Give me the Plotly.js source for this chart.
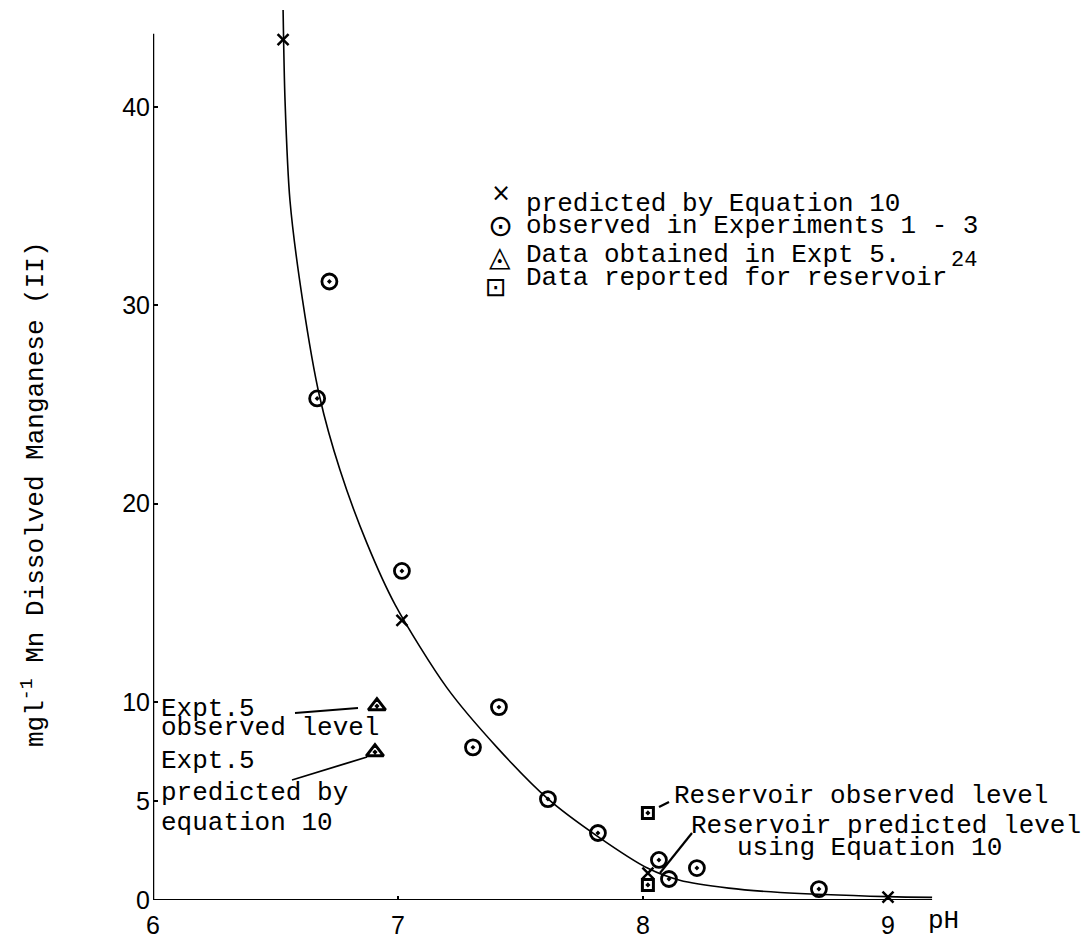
<!DOCTYPE html>
<html>
<head>
<meta charset="utf-8">
<script src="https://cdn.plot.ly/plotly-3.0.1.min.js"></script>
<style>html,body{margin:0;padding:0;background:#fff;}#chart{width:1087px;height:939px;}</style>
</head>
<body>
<div id="chart"></div>
<script>
// ---- data ----
const curvePH  = [6.531, 6.539, 6.559, 6.61, 6.68, 6.763, 6.873, 6.988, 7.2, 7.404, 7.612, 7.816, 8.02, 8.15, 8.35, 8.56, 9.0, 9.18];
const curveMn  = [44.9, 40.3, 35.3, 30.3, 25.4, 21.7, 18.0, 14.9, 10.7, 7.7, 5.1, 3.2, 1.6, 1.0, 0.6, 0.38, 0.17, 0.13];

const predictedPH = [6.531, 7.016, 8.02, 9.0];
const predictedMn = [43.4, 14.1, 1.36, 0.15];

const observedPH = [6.67, 6.72, 7.016, 7.306, 7.412, 7.612, 7.816, 8.065, 8.106, 8.22, 8.718];
const observedMn = [25.3, 31.2, 16.6, 7.7, 9.73, 5.09, 3.38, 2.02, 1.06, 1.61, 0.55];

const expt5PH = [6.914, 6.906];
const expt5Mn = [9.78, 7.46];

const reservoirPH = [8.02, 8.02];
const reservoirMn = [4.39, 0.76];

const xTicks = [6, 7, 8, 9];
const yTicks = [0, 5, 10, 20, 30, 40];

// ---- layout helpers (pixel -> paper) ----
const L = 153, R = 150, T = 0, B = 39, W = 1087, H = 939;
const PW = W - L - R, PH = H - T - B;
const px = p => (p - L) / PW;
const py = p => (H - B - p) / PH;

const MONO = 'Liberation Mono, Courier New, monospace';
const SANS = 'Liberation Sans, Arial, sans-serif';
const SYM = 'DejaVu Sans, sans-serif';

function txt(text, x, y, opts) {
  return Object.assign({
    text: text, xref: 'paper', yref: 'paper', x: px(x), y: py(y),
    xanchor: 'left', yanchor: 'middle', showarrow: false,
    font: {family: MONO, size: 26, color: '#000'}
  }, opts || {});
}

const traces = [
  {x: curvePH, y: curveMn, mode: 'lines', type: 'scatter', line: {color: '#000', width: 1.6, shape: 'spline', smoothing: 0.8}, hoverinfo: 'skip', cliponaxis: false},
  {x: predictedPH, y: predictedMn, mode: 'markers', type: 'scatter', name: 'predicted by Equation 10',
   marker: {symbol: 'x-thin', size: 11, line: {color: '#000', width: 2.5}}, cliponaxis: false},
  {x: observedPH, y: observedMn, mode: 'markers', type: 'scatter', name: 'observed in Experiments 1 - 3',
   marker: {symbol: 'circle-open-dot', size: 15, color: '#000', line: {color: '#000', width: 2.8}}, cliponaxis: false},
  {x: expt5PH, y: expt5Mn, mode: 'markers', type: 'scatter', name: 'Data obtained in Expt 5.',
   marker: {symbol: 'triangle-up-open-dot', size: 15, color: '#000', line: {color: '#000', width: 3}}, cliponaxis: false},
  {x: reservoirPH, y: reservoirMn, mode: 'markers', type: 'scatter', name: 'Data reported for reservoir',
   marker: {symbol: 'square-open-dot', size: 11, color: '#000', line: {color: '#000', width: 3}}, cliponaxis: false}
];

const annotations = [
  // legend
  txt('×', 501, 193, {xanchor: 'center', font: {family: SYM, size: 24, color: '#000'}}),
  txt('predicted by Equation 10', 524, 204),
  txt('⊙', 500, 226, {xanchor: 'center', font: {family: SYM, size: 30, color: '#000'}}),
  txt('observed in Experiments 1 - 3', 524, 226),
  txt('◬', 500, 256, {xanchor: 'center', font: {family: SYM, size: 28, color: '#000'}}),
  txt('Data obtained in Expt 5.', 524, 255),
  txt('⊡', 496, 287, {xanchor: 'center', font: {family: SYM, size: 26, color: '#000'}}),
  txt('Data reported for reservoir', 524, 278),
  txt('24', 949, 260, {font: {family: MONO, size: 22, color: '#000'}}),
  // expt 5 labels
  txt('Expt.5', 159, 709),
  txt('observed level', 159, 728),
  txt('Expt.5', 159, 761),
  txt('predicted by', 159, 793),
  txt('equation 10', 159, 823),
  // reservoir labels
  txt('Reservoir observed level', 672, 796),
  txt('Reservoir predicted level', 689, 826),
  txt('using Equation 10', 735, 848),
  // x axis name
  txt('pH', 927, 921, {borderpad: 0}),
  // y axis title
  {text: 'mgl<sup>-1</sup> Mn Dissolved Manganese (II)', xref: 'paper', yref: 'paper',
   x: px(34), y: py(494), xanchor: 'center', yanchor: 'middle', textangle: -90, showarrow: false,
   font: {family: MONO, size: 26, color: '#000'}}
];

const shapes = [
  // axis lines
  {type: 'line', xref: 'x', yref: 'y', x0: 6, x1: 6, y0: 0, y1: 43.7, line: {color: '#000', width: 2.5}},
  {type: 'line', xref: 'x', yref: 'y', x0: 5.95, x1: 9.18, y0: 0, y1: 0, line: {color: '#000', width: 2.2}},
  // leader lines (pixel positions)
  {type: 'line', xref: 'paper', yref: 'paper', x0: px(295), y0: py(713), x1: px(358), y1: py(708), line: {color: '#000', width: 1.8}},
  {type: 'line', xref: 'paper', yref: 'paper', x0: px(292), y0: py(780), x1: px(367), y1: py(757), line: {color: '#000', width: 1.8}},
  {type: 'line', xref: 'paper', yref: 'paper', x0: px(659), y0: py(807), x1: px(669), y1: py(802), line: {color: '#000', width: 2.2}},
  {type: 'line', xref: 'paper', yref: 'paper', x0: px(660), y0: py(873), x1: px(692), y1: py(833), line: {color: '#000', width: 2.2}}
];

const layout = {
  width: W, height: H,
  margin: {l: L, r: R, t: T, b: B, pad: 0},
  paper_bgcolor: '#fff', plot_bgcolor: '#fff',
  showlegend: false,
  xaxis: {range: [6, 9.2], tickvals: xTicks, ticktext: xTicks.map(String), ticks: 'inside', ticklen: 4, tickwidth: 2, tickcolor: '#000',
          showline: false, showgrid: false, zeroline: false, ticklabelstandoff: 8,
          tickfont: {family: SANS, size: 25, color: '#000'}},
  yaxis: {range: [0, 45.4], tickvals: yTicks, ticktext: yTicks.map(String), ticks: 'inside', ticklen: 5, tickwidth: 2, tickcolor: '#000',
          showline: false, showgrid: false, zeroline: false, ticklabelstandoff: 2,
          tickfont: {family: SANS, size: 25, color: '#000'}},
  annotations: annotations,
  shapes: shapes
};

Plotly.newPlot('chart', traces, layout, {displayModeBar: false, staticPlot: true});
</script>
</body>
</html>
